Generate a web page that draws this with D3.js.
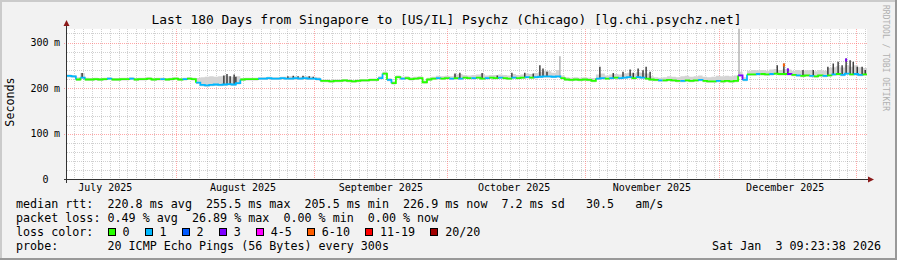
<!DOCTYPE html>
<html>
<head>
<meta charset="utf-8">
<script src="https://cdn.jsdelivr.net/npm/d3@7"></script>
<style>
  html, body { margin: 0; padding: 0; background: #f2f2f2; }
  svg { display: block; }
  text { font-family: "DejaVu Sans Mono", monospace; white-space: pre; fill: #000; }
</style>
</head>
<body>
<div id="chart"></div>
<script>
var startTime = Date.UTC(2025, 6, 7, 9, 23, 38);
var endTime = Date.UTC(2026, 0, 3, 9, 23, 38);
var DAY = 86400000;

// median rtt per day (ms)
var medianMs = [
  227, 226, 219, 223, 219, 219, 220, 219, 220, 221,
  219, 219, 220, 220, 221, 219, 220, 220, 221, 219,
  220, 220, 219, 220, 221, 219, 220, 221, 220, 212,
  207, 206, 207, 208, 207, 208, 209, 208, 211, 219,
  220, 220, 220, 221, 221, 222, 221, 221, 222, 221,
  221, 222, 221, 222, 221, 221, 220, 216, 216, 215,
  216, 216, 217, 216, 215, 216, 217, 217, 218, 218,
  222, 232, 218, 211, 224, 221, 222, 220, 221, 222,
  213, 219, 221, 222, 221, 222, 221, 222, 221, 223,
  222, 222, 223, 221, 222, 223, 222, 223, 222, 221,
  223, 222, 223, 224, 223, 224, 225, 226, 226, 225,
  226, 222, 219, 218, 219, 218, 219, 218, 216, 221,
  222, 221, 222, 223, 222, 223, 224, 222, 224, 223,
  221, 219, 218, 217, 217, 218, 217, 216, 216, 217,
  216, 217, 218, 216, 215, 215, 216, 215, 216, 215,
  216, 228, 218, 230, 230, 231, 231, 230, 231, 232,
  231, 231, 231, 229, 228, 227, 228, 227, 226, 228,
  227, 228, 230, 231, 229, 232, 230, 231, 229, 230
];

// loss colour index per day (0 = no loss)
var lossIdx = [
  1, 1, 0, 1, 0, 0, 0, 0, 0, 1,
  0, 0, 0, 0, 1, 0, 0, 0, 0, 0,
  0, 1, 0, 0, 0, 0, 1, 0, 0, 1,
  1, 1, 1, 1, 1, 1, 1, 1, 1, 0,
  0, 0, 0, 1, 1, 1, 1, 1, 1, 1,
  1, 1, 1, 1, 1, 1, 1, 0, 0, 0,
  0, 0, 0, 0, 0, 0, 0, 0, 0, 0,
  1, 0, 1, 0, 0, 1, 0, 0, 0, 0,
  0, 0, 0, 1, 0, 0, 1, 0, 1, 0,
  0, 1, 0, 0, 1, 0, 0, 1, 0, 0,
  1, 0, 0, 1, 0, 1, 1, 1, 1, 1,
  1, 0, 0, 0, 0, 0, 0, 0, 0, 1,
  1, 0, 1, 0, 1, 1, 1, 0, 1, 1,
  0, 0, 0, 1, 0, 0, 0, 0, 1, 0,
  0, 0, 1, 0, 0, 0, 1, 0, 0, 0,
  0, 3, 1, 0, 0, 1, 0, 0, 1, 0,
  0, 0, 3, 0, 1, 0, 0, 1, 0, 0,
  1, 0, 1, 0, 1, 1, 0, 1, 1, 0
];

// top of the light smoke per day (ms)
var smokeTopMs = [
  230, 229, 224, 233, 223, 222, 223, 222, 223, 224,
  222, 222, 223, 223, 224, 222, 223, 223, 224, 222,
  223, 223, 222, 223, 224, 222, 223, 224, 223, 222,
  224, 225, 226, 225, 226, 227, 226, 225, 226, 222,
  223, 223, 223, 224, 224, 225, 224, 224, 225, 225,
  226, 226, 225, 226, 226, 225, 224, 219, 219, 218,
  219, 219, 220, 219, 218, 219, 220, 220, 221, 221,
  226, 236, 222, 215, 228, 225, 226, 224, 225, 226,
  217, 223, 225, 227, 226, 227, 226, 230, 231, 229,
  228, 229, 230, 231, 228, 229, 229, 230, 229, 228,
  231, 229, 230, 232, 231, 233, 236, 238, 237, 234,
  240, 228, 224, 223, 224, 223, 224, 223, 222, 230,
  232, 228, 230, 231, 230, 232, 234, 232, 235, 234,
  232, 226, 224, 223, 224, 226, 225, 224, 226, 227,
  225, 226, 228, 225, 224, 225, 227, 226, 227, 226,
  228, 236, 224, 238, 240, 239, 240, 238, 241, 242,
  240, 242, 241, 238, 240, 238, 239, 240, 237, 240,
  238, 244, 246, 248, 245, 250, 247, 250, 246, 244
];

// dark smoke spikes: [day, top ms, loss colour of tip or -1]
var spikes = [
  [3.4, 233, -1],
  [35.3, 228, -1], [36.0, 231, -1], [36.7, 226, -1], [37.6, 230, -1], [38.0, 225, -1],
  [49.7, 226, -1], [50.9, 227, -1], [52.0, 226, -1], [53.1, 227, -1], [54.5, 226, -1], [55.4, 225, -1],
  [87.3, 232, -1], [88.4, 234, -1], [93.4, 233, -1], [96.8, 228, -1], [100.1, 234, -1],
  [103.0, 234, -1], [104.9, 232, -1], [106.4, 250, -1], [107.1, 243, -1], [108.0, 236, -1],
  [119.9, 247, -1], [122.9, 233, -1], [125.1, 236, -1], [126.7, 241, -1], [127.4, 234, -1],
  [128.5, 243, -1], [129.6, 239, -1], [130.3, 247, -1], [131.2, 236, -1],
  [159.8, 250, -1], [161.3, 254, 5], [162.2, 243, 3], [165.6, 240, -1], [167.9, 240, -1],
  [171.2, 247, -1], [172.4, 254, -1], [173.5, 258, -1], [174.4, 250, -1], [175.3, 265, 3],
  [176.2, 261, -1], [176.9, 258, -1], [177.8, 247, -1], [178.9, 247, -1], [179.6, 240, -1]
];
// thin light smoke spikes: [day, top ms]
var greySpikes = [[110.9, 270], [151.2, 345]];

var lossColors = ["#26ff00", "#00b8ff", "#0059ff", "#7e00ff", "#ff00ff", "#ff5e00", "#ff0000", "#a10000"];
var lossLabels = ["0", "1", "2", "3", "4-5", "6-10", "11-19", "20/20"];

var yMajor = [100, 200, 300];
var yMinor = [20, 40, 60, 80, 120, 140, 160, 180, 220, 240, 260, 280, 320];

var title = "Last 180 Days from Singapore to [US/IL] Psychz (Chicago) [lg.chi.psychz.net]";
var legendRows = [
  "median rtt:  220.8 ms avg  255.5 ms max  205.5 ms min  226.9 ms now  7.2 ms sd   30.5   am/s",
  "packet loss: 0.49 % avg  26.89 % max  0.00 % min  0.00 % now",
  "loss color:",
  "probe:       20 ICMP Echo Pings (56 Bytes) every 300s"
];
var stamp = "Sat Jan  3 09:23:38 2026";

var W = 897, H = 260;
var x0 = 67, x1 = 867, yBot = 179.5, yTop = 28.8;
var CH = 7.04; // legend char width

var x = d3.scaleUtc().domain([startTime, endTime]).range([x0, x1]);
var y = d3.scaleLinear().domain([0, 330]).range([yBot, yTop]);
function dx(d) { return x(startTime + d * DAY); }

var svg = d3.select("#chart").append("svg").attr("width", W).attr("height", H);

svg.append("rect").attr("width", W).attr("height", H).attr("fill", "#f2f2f2");
svg.append("rect").attr("x", 0).attr("y", 0).attr("width", W).attr("height", 2).attr("fill", "#cbcbcb");
svg.append("rect").attr("x", 0).attr("y", 0).attr("width", 2).attr("height", H).attr("fill", "#cbcbcb");
svg.append("rect").attr("x", 0).attr("y", H - 2).attr("width", W).attr("height", 2).attr("fill", "#999");
svg.append("rect").attr("x", W - 2).attr("y", 0).attr("width", 2).attr("height", H).attr("fill", "#999");

svg.append("defs").append("clipPath").attr("id", "cv")
  .append("rect").attr("x", x0).attr("y", yTop).attr("width", x1 - x0).attr("height", yBot - yTop);

svg.append("rect").attr("x", x0).attr("y", yTop).attr("width", x1 - x0).attr("height", yBot - yTop)
  .attr("fill", "#fff");

// grid
var grid = svg.append("g").attr("shape-rendering", "crispEdges");
var monthStarts = d3.utcMonth.range(startTime, endTime);
var majorSet = monthStarts.map(function (m) { return +m; });
var minorX = [];
for (var t = Date.UTC(2025, 6, 7); t <= endTime; t += 2 * DAY) {
  if (t > startTime && majorSet.indexOf(t) < 0) minorX.push(t);
}
grid.selectAll(".mx").data(minorX).enter().append("line")
  .attr("x1", function (d) { return Math.round(x(d)) + 0.5; })
  .attr("x2", function (d) { return Math.round(x(d)) + 0.5; })
  .attr("y1", yTop).attr("y2", yBot)
  .attr("stroke", "rgba(140,140,140,0.4)").attr("stroke-dasharray", "1,1");
grid.selectAll(".my").data(yMinor).enter().append("line")
  .attr("x1", x0).attr("x2", x1)
  .attr("y1", function (d) { return Math.round(y(d)) + 0.5; })
  .attr("y2", function (d) { return Math.round(y(d)) + 0.5; })
  .attr("stroke", "rgba(140,140,140,0.4)").attr("stroke-dasharray", "1,1");
grid.selectAll(".Mx").data(monthStarts).enter().append("line")
  .attr("x1", function (d) { return Math.round(x(d)) + 0.5; })
  .attr("x2", function (d) { return Math.round(x(d)) + 0.5; })
  .attr("y1", yTop).attr("y2", yBot + 2)
  .attr("stroke", "rgba(255,95,95,0.55)").attr("stroke-dasharray", "1,1");
grid.selectAll(".My").data(yMajor).enter().append("line")
  .attr("x1", x0 - 3).attr("x2", x1)
  .attr("y1", function (d) { return Math.round(y(d)) + 0.5; })
  .attr("y2", function (d) { return Math.round(y(d)) + 0.5; })
  .attr("stroke", "rgba(255,95,95,0.55)").attr("stroke-dasharray", "1,1");

var plot = svg.append("g").attr("clip-path", "url(#cv)");

// smoke
var smokeData = medianMs.map(function (m, i) { return { d: i, lo: m - 3, hi: smokeTopMs[i] }; });
smokeData.push({ d: 180, lo: medianMs[179] - 3, hi: smokeTopMs[179] });
plot.append("path").datum(smokeData)
  .attr("fill", "#d4d4d4")
  .attr("d", d3.area().curve(d3.curveStepAfter)
    .x(function (p) { return dx(p.d); })
    .y0(function (p) { return y(p.lo); })
    .y1(function (p) { return y(p.hi); }));

plot.selectAll(".gs").data(greySpikes).enter().append("line")
  .attr("x1", function (s) { return dx(s[0]); }).attr("x2", function (s) { return dx(s[0]); })
  .attr("y1", function (s) { return y(medianMs[Math.floor(s[0])]); })
  .attr("y2", function (s) { return y(s[1]); })
  .attr("stroke", "#b4b4b4").attr("stroke-width", 1.5);

plot.selectAll(".sp").data(spikes).enter().append("line")
  .attr("x1", function (s) { return dx(s[0]); }).attr("x2", function (s) { return dx(s[0]); })
  .attr("y1", function (s) { return y(medianMs[Math.min(179, Math.floor(s[0]))]); })
  .attr("y2", function (s) { return y(s[1]); })
  .attr("stroke", "#262626").attr("stroke-width", 1.3);
plot.selectAll(".tip").data(spikes.filter(function (s) { return s[2] >= 0; })).enter().append("line")
  .attr("x1", function (s) { return dx(s[0]); }).attr("x2", function (s) { return dx(s[0]); })
  .attr("y1", function (s) { return y(s[1]) + 3; })
  .attr("y2", function (s) { return y(s[1]); })
  .attr("stroke", function (s) { return lossColors[s[2]]; }).attr("stroke-width", 2);

// median line, split into runs of equal loss colour
var runs = [];
medianMs.forEach(function (m, i) {
  var last = runs[runs.length - 1];
  if (!last || last.loss !== lossIdx[i]) {
    last = { loss: lossIdx[i], pts: [] };
    runs.push(last);
  }
  last.pts.push([i, m]);
});
runs.forEach(function (r) {
  var e = r.pts[r.pts.length - 1][0] + 1;
  r.pts.push([e, e < 180 ? medianMs[e] : medianMs[179]]);
});
var medLine = d3.line().curve(d3.curveStepAfter)
  .x(function (p) { return dx(p[0]); })
  .y(function (p) { return y(p[1]); });
plot.selectAll(".med").data(runs).enter().append("path")
  .attr("fill", "none")
  .attr("stroke", function (r) { return lossColors[r.loss]; })
  .attr("stroke-width", 1.8)
  .attr("d", function (r) { return medLine(r.pts); });

// axes
var axisCol = "#333";
svg.append("line").attr("x1", x0 - 0.5).attr("x2", x0 - 0.5).attr("y1", yBot + 3).attr("y2", 24)
  .attr("stroke", axisCol).attr("shape-rendering", "crispEdges");
svg.append("line").attr("x1", x0 - 3).attr("x2", x1 + 2).attr("y1", yBot).attr("y2", yBot)
  .attr("stroke", axisCol).attr("shape-rendering", "crispEdges");
svg.append("path").attr("d", d3.line()([[x0 - 3.5, 26], [x0 + 2.5, 26], [x0 - 0.5, 20]]) + "Z").attr("fill", "#8b1a1a");
svg.append("path").attr("d", d3.line()([[x1 + 1, yBot - 3], [x1 + 1, yBot + 3], [x1 + 7, yBot]]) + "Z").attr("fill", "#8b1a1a");

// y labels
var yl = svg.append("g").attr("font-size", "10px");
[0].concat(yMajor).forEach(function (v) {
  var yy = y(v) + 3.6;
  yl.append("text").attr("x", 48.5).attr("y", yy).attr("text-anchor", "end").text(v);
  if (v > 0) yl.append("text").attr("x", 54).attr("y", yy).text("m");
});

// month labels, centred half a month after the month start
var labelMonths = d3.utcMonth.range(d3.utcMonth.floor(startTime), endTime)
  .filter(function (m) { var c = +m + 15 * DAY; return c >= startTime && c <= endTime; });
svg.append("g").attr("font-size", "10px").selectAll("text").data(labelMonths).enter().append("text")
  .attr("x", function (m) { return x(+m + 15 * DAY); })
  .attr("y", 191)
  .attr("text-anchor", "middle")
  .text(d3.utcFormat("%B %Y"));

// title and side texts
svg.append("text").attr("x", 446.5).attr("y", 24).attr("text-anchor", "middle")
  .attr("font-size", "12.9px").text(title);
svg.append("text").attr("transform", "translate(14,102) rotate(-90)").attr("text-anchor", "middle")
  .attr("font-size", "11.7px").text("Seconds");
svg.append("text").attr("transform", "translate(883,58) rotate(90)").attr("text-anchor", "middle")
  .attr("font-size", "8px").style("fill", "#b0b0b0").text("RRDTOOL / TOBI OETIKER");

// legend
var lg = svg.append("g").attr("font-size", "11.7px");
var rowY = [208, 222, 236, 250];
legendRows.forEach(function (s, i) {
  lg.append("text").attr("x", 16).attr("y", rowY[i]).text(s);
});
var bx = 16 + 13 * CH;
lossLabels.forEach(function (lab, i) {
  lg.append("rect").attr("x", Math.round(bx) + 0.5).attr("y", 228.5).attr("width", 7).attr("height", 7)
    .attr("fill", lossColors[i]).attr("stroke", "#000").attr("shape-rendering", "crispEdges");
  lg.append("text").attr("x", bx + 15).attr("y", rowY[2]).text(lab);
  bx = bx + 15 + lab.length * CH + 15;
});
lg.append("text").attr("x", 881).attr("y", rowY[3]).attr("text-anchor", "end").text(stamp);
</script>
</body>
</html>
